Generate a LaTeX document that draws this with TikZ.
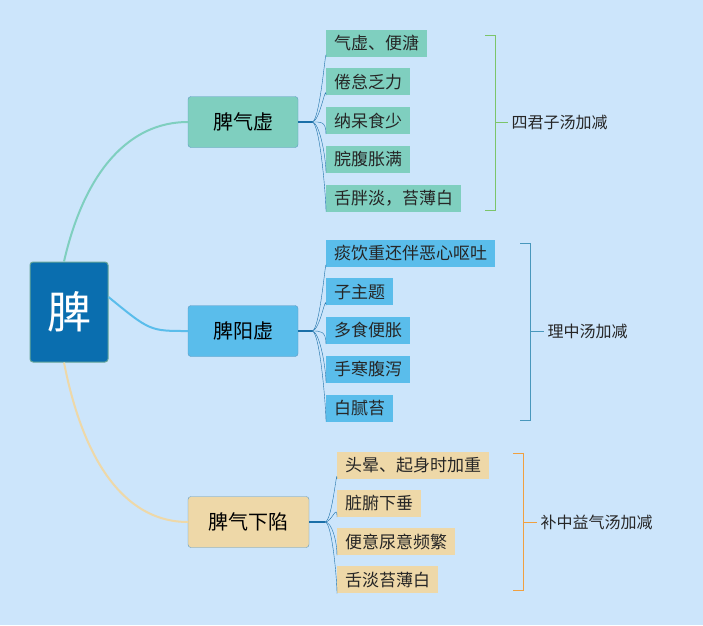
\documentclass[tikz,border=0pt]{standalone}
\usepackage{fontspec}
\setmainfont{Noto Sans CJK SC}
\definecolor{bg}{HTML}{CCE5FB}
\definecolor{rootc}{HTML}{0A6EAF}
\definecolor{qic}{HTML}{7FCFBF}
\definecolor{yangc}{HTML}{5ABDEB}
\definecolor{xiac}{HTML}{EED8A8}
\definecolor{linec}{HTML}{1A6FA8}
\definecolor{grn}{HTML}{7CC46A}
\definecolor{org}{HTML}{F0A040}
\tikzset{
  branch/.style={draw=linec!70, rounded corners=3pt, minimum height=51pt, font=\fontsize{20}{20}\selectfont, inner xsep=10pt},
  leaf/.style={anchor=west, minimum height=27pt, inner xsep=8pt, font=\fontsize{17}{17}\selectfont, text=black!85},
  rx/.style={font=\fontsize{16}{16}\selectfont, text=black!85, anchor=west}
}
\begin{document}
\begin{tikzpicture}[x=1pt,y=-1pt]
\fill[bg] (0,0) rectangle (703,625);
\useasboundingbox (0,0) rectangle (703,625);

\node[draw=qic!80!black, line width=1pt, fill=rootc, rounded corners=3pt, minimum width=78pt, minimum height=100pt, text=white, font=\fontsize{44}{44}\selectfont] (root) at (69,312) {脾};

\node[branch, fill=qic, minimum width=110pt] (qi) at (243,122) {脾气虚};
\node[branch, fill=yangc, minimum width=110pt] (yang) at (243,331) {脾阳虚};
\node[branch, fill=xiac, minimum width=121pt] (xia) at (248.5,522) {脾气下陷};

\draw[qic, line width=2pt] ([xshift=-5pt]root.north) .. controls (85,170) and (130,122) .. (qi.west);
\draw[yangc, line width=2pt] ([yshift=15pt]root.east) .. controls (150,331) .. (yang.west);
\draw[xiac, line width=2pt] ([xshift=-5pt]root.south) .. controls (85,470) and (130,522) .. (xia.west);

% first group
\coordinate (fq) at (312,122);
\draw[linec, line width=1.2pt] (qi.east) -- (fq);
\foreach \t [count=\i] in {气虚、便溏,倦怠乏力,纳呆食少,脘腹胀满,舌胖淡，苔薄白} {
  \node[leaf, fill=qic] (q\i) at (326,{43+38.75*(\i-1)}) {\t};
  \draw[linec, thin] (fq) .. controls (320,122) and (326,{43+38.75*(\i-1)}) .. (q\i.south west);
}
\draw[grn, thin] (485,35) -- (495,35) -- (495,210) -- (485,210);
\node[rx] (fang1) at (508,122) {四君子汤加减};
\draw[grn, thin] (495,122) -- (fang1.west);

% second group
\coordinate (fy) at (312,331);
\draw[linec, line width=1.2pt] (yang.east) -- (fy);
\foreach \t [count=\i] in {痰饮重还伴恶心呕吐,子主题,多食便胀,手寒腹泻,白腻苔} {
  \node[leaf, fill=yangc] (y\i) at (326,{253+38.75*(\i-1)}) {\t};
  \draw[linec, thin] (fy) .. controls (320,331) and (326,{253+38.75*(\i-1)}) .. (y\i.south west);
}
\draw[yangc!80!black, thin] (520,243) -- (530,243) -- (530,420) -- (520,420);
\node[rx] (fang2) at (544,331) {理中汤加减};
\draw[yangc!80!black, thin] (530,331) -- (fang2.west);

% third group
\coordinate (fx) at (325,522);
\draw[linec, line width=1.2pt] (xia.east) -- (fx);
\foreach \t [count=\i] in {头晕、起身时加重,脏腑下垂,便意尿意频繁,舌淡苔薄白} {
  \node[leaf, fill=xiac] (x\i) at (337,{465+38.3*(\i-1)}) {\t};
  \draw[linec, thin] (fx) .. controls (332,522) and (337,{465+38.3*(\i-1)}) .. (x\i.south west);
}
\draw[org, thin] (513,453) -- (523,453) -- (523,590) -- (513,590);
\node[rx] (fang3) at (537,522) {补中益气汤加减};
\draw[org, thin] (523,522) -- (fang3.west);
\end{tikzpicture}
\end{document}
